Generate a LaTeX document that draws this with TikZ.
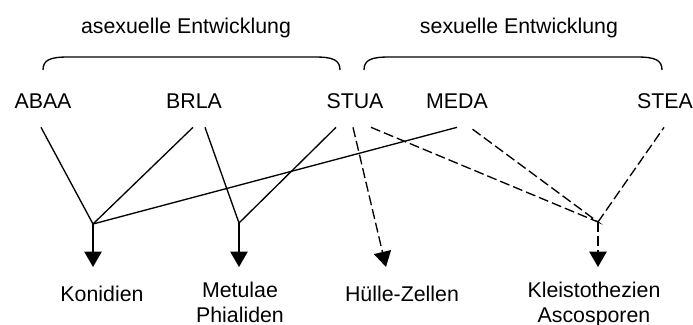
\documentclass[tikz,border=0pt]{standalone}
\usepackage{fontspec}
\setmainfont{Liberation Sans}
\usetikzlibrary{arrows.meta,calc}

\begin{document}
\begin{tikzpicture}[x=0.75pt,y=-0.75pt,font=\fontsize{16}{18.5}\selectfont,line width=1pt,
  strain/.style={anchor=base,text depth=0pt,inner xsep=0pt,inner ysep=14pt},
  result/.style={anchor=north,align=center,inner xsep=0pt,inner ysep=11pt},
  dashline/.style={dash pattern=on 7.5pt off 3pt},
  arr/.style={-{Triangle[length=11.5pt,width=13pt]}}]
\useasboundingbox (0,0) rectangle (693,325);
\node[anchor=base] (asex) at (186,33) {asexuelle Entwicklung};
\node[anchor=base] (sex) at (519,33) {sexuelle Entwicklung};
\foreach \A/\B in {43/340,364/662}
  \draw (\A,70) .. controls (\A,60) and (\A+7,57) .. (\A+25,57) -- (\B-25,57)
    .. controls (\B-7,57) and (\B,60) .. (\B,70);
\foreach \N/\X in {ABAA/43,BRLA/194,STUA/355,MEDA/457,STEA/665}
  \node[strain] (\N) at (\X,108) {\N};
\coordinate (jk) at (93,224);
\coordinate (jm) at (239,223);
\coordinate (ja) at (598,222);
\node[result,inner ysep=14pt] (Konidien) at (102,267) {Konidien};
\node[result] (Metulae) at (240,267) {Metulae\\Phialiden};
\node[result,inner ysep=14pt] (Huelle) at (402,267) {Hülle-Zellen};
\node[result] (Kleist) at (594,267) {Kleistothezien\\Ascosporen};
\draw ($(ABAA.south)+(-2,0)$) -- (jk) -- ($(BRLA.south)+(-1,0)$);
\draw (jk) -- (MEDA.south);
\draw ($(BRLA.south)+(11,0)$) -- (jm) -- ($(STUA.south)+(-19,0)$);
\draw[arr] (jk) -- (jk |- Konidien.north);
\draw[arr] (jm) -- (jm |- Metulae.north);
\draw[dashline,arr] ($(STUA.south)+(-2,0)$) -- ($(Huelle.north)+(-16,0)$);
\draw[dashline] ($(STUA.south)+(16,0)$) -- (ja) -- ($(MEDA.south)+(13,0)$);
\draw[dashline] (ja) -- ($(STEA.south)+(-1,0)$);
\draw[dashline,arr] (ja) -- (ja |- Kleist.north);
\end{tikzpicture}
\end{document}
